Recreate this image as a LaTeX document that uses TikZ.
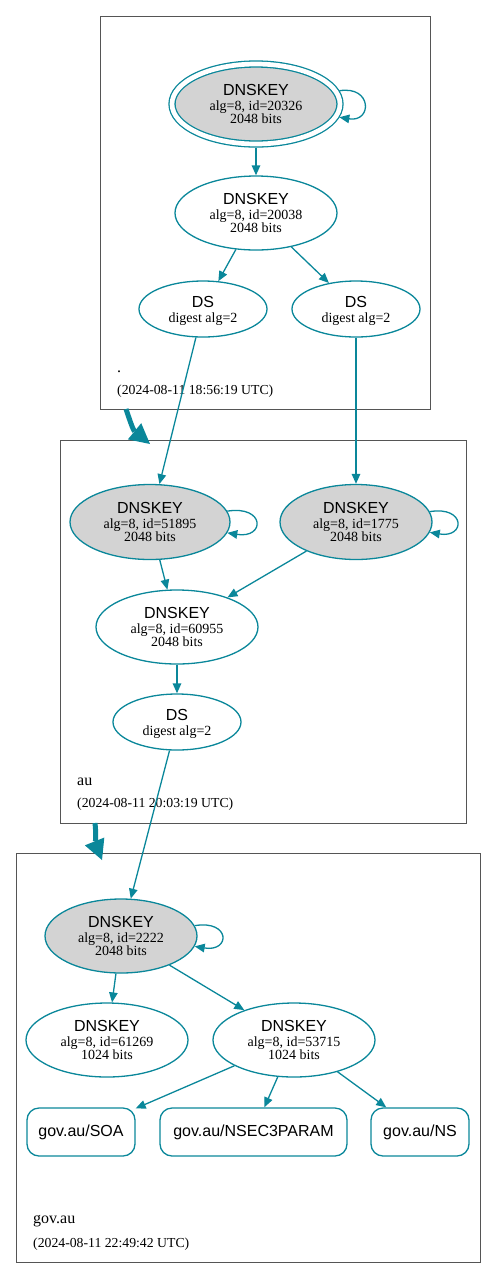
\documentclass[tikz,border=0pt]{standalone}
\usepackage{fontspec}
\setmainfont{Liberation Serif}
\newfontfamily\hv{Liberation Sans}
\usetikzlibrary{shapes.geometric,arrows.meta,calc}
\definecolor{sec}{HTML}{0A879A}
\definecolor{keyfill}{HTML}{D3D3D3}
\definecolor{zoneline}{HTML}{555555}
\newcommand\keytxt[2]{{\hv\fontsize{16}{16}\selectfont DNSKEY}\\[1.5pt]#1\\#2}
\newcommand\dstxt{{\hv\fontsize{16}{16}\selectfont\rule{0pt}{15pt}DS}\\[1pt]digest alg=2}
\tikzset{
  keynode/.style={ellipse, draw=sec, line width=1.3pt, fill=white, inner sep=0pt, align=center,
    font=\fontsize{14}{13.5}\selectfont},
  ksknode/.style={keynode, fill=keyfill},
  rrnode/.style={rectangle, rounded corners=12pt, draw=sec, line width=1.3pt, inner sep=0pt,
    font=\hv\fontsize{16}{16}\selectfont},
  edge/.style={draw=sec, line width=1.3pt, -{Triangle[length=10pt,width=8.5pt]}},
  bigedge/.style={draw=sec, line width=5pt, -{Triangle[length=20pt,width=21pt,line width=0pt]}},
  zone/.style={draw=zoneline, line width=0.85pt},
  zlabel/.style={anchor=base west, inner sep=0pt, font=\fontsize{16}{16}\selectfont},
  zdate/.style={anchor=base west, inner sep=0pt, font=\fontsize{13.75}{14}\selectfont},
}
\begin{document}
\begin{tikzpicture}[x=1pt,y=-1pt]
\useasboundingbox (0,0) rectangle (496,1278);
% clusters
\draw[zone] (100,16) rectangle (430,409);
\draw[zone] (60,440) rectangle (466,823);
\draw[zone] (16,853) rectangle (480,1262);
\node[zlabel] (l1) at (117,372) {.};
\node[zdate] (d1) at (117,394) {(2024-08-11 18:56:19 UTC)};
\node[zlabel] (l2) at (77,785) {au};
\node[zdate] (d2) at (77,807) {(2024-08-11 20:03:19 UTC)};
\node[zlabel] (l3) at (33,1223) {gov.au};
\node[zdate] (d3) at (33,1247) {(2024-08-11 22:49:42 UTC)};
% root zone
\node[ksknode, double=white, double distance=4.7pt, minimum width=168pt, minimum height=80pt] (k1) at (256,104) {\keytxt{alg=8, id=20326}{2048 bits}};
\node[keynode, minimum width=162pt, minimum height=74pt] (z1) at (256,213) {\keytxt{alg=8, id=20038}{2048 bits}};
\node[keynode, minimum width=128pt, minimum height=56pt] (ds1) at (203,309) {\dstxt};
\node[keynode, minimum width=128pt, minimum height=56pt] (ds2) at (356,309) {\dstxt};
% au zone
\node[ksknode, minimum width=160pt, minimum height=75pt] (a1) at (150,522) {\keytxt{alg=8, id=51895}{2048 bits}};
\node[ksknode, minimum width=152pt, minimum height=75pt] (a2) at (356,522) {\keytxt{alg=8, id=1775}{2048 bits}};
\node[keynode, minimum width=162pt, minimum height=74pt] (a3) at (177,627) {\keytxt{alg=8, id=60955}{2048 bits}};
\node[keynode, minimum width=128pt, minimum height=56pt] (ads) at (177,722) {\dstxt};
% gov.au zone
\node[ksknode, minimum width=152pt, minimum height=74pt] (g1) at (121,936) {\keytxt{alg=8, id=2222}{2048 bits}};
\node[keynode, minimum width=162pt, minimum height=74pt] (g2) at (107,1040) {\keytxt{alg=8, id=61269}{1024 bits}};
\node[keynode, minimum width=162pt, minimum height=74pt] (g3) at (294,1040) {\keytxt{alg=8, id=53715}{1024 bits}};
\node[rrnode, minimum width=108pt, minimum height=48pt] (soa) at (81,1132) {gov.au/SOA};
\node[rrnode, minimum width=187pt, minimum height=48pt] (n3p) at (253.5,1132) {gov.au/NSEC3PARAM};
\node[rrnode, minimum width=98pt, minimum height=48pt] (ns) at (420,1132) {gov.au/NS};
% self loops
\draw[edge, shorten <=3pt, shorten >=3pt] (k1.9) .. controls ($(k1.9)+(36,-6)$) and ($(k1.-9)+(36,6)$) .. (k1.-9);
\draw[edge] (a1.8) .. controls ($(a1.8)+(38,-6)$) and ($(a1.-8)+(38,6)$) .. (a1.-8);
\draw[edge] (a2.8) .. controls ($(a2.8)+(36,-6)$) and ($(a2.-8)+(36,6)$) .. (a2.-8);
\draw[edge] (g1.8) .. controls ($(g1.8)+(36,-6)$) and ($(g1.-8)+(36,6)$) .. (g1.-8);
% edges
\draw[edge, shorten <=3pt] (k1) -- (z1);
\draw[edge] (z1) -- (ds1);
\draw[edge] (z1) -- (ds2);
\draw[edge] (ds1) -- (a1);
\draw[edge] (ds2) -- (a2);
\draw[edge] (a1) -- (a3);
\draw[edge] (a2) -- (a3);
\draw[edge] (a3) -- (ads);
\draw[edge] (ads) -- (g1);
\draw[edge] (g1) -- (g2);
\draw[edge] (g1) -- (g3);
\draw[edge] (g3) -- (soa);
\draw[edge] (g3) -- (n3p);
\draw[edge] (g3) -- (ns);
% delegation arrows between zones
\coordinate (rootout) at (126,409);
\coordinate (auin) at (150,444);
\coordinate (auout) at (95,823);
\coordinate (govin) at (102,860);
\draw[bigedge] (rootout) .. controls (129,418) and (133,430) .. (auin);
\draw[bigedge] (auout) .. controls (96,832) and (96,845) .. (govin);
\end{tikzpicture}
\end{document}
